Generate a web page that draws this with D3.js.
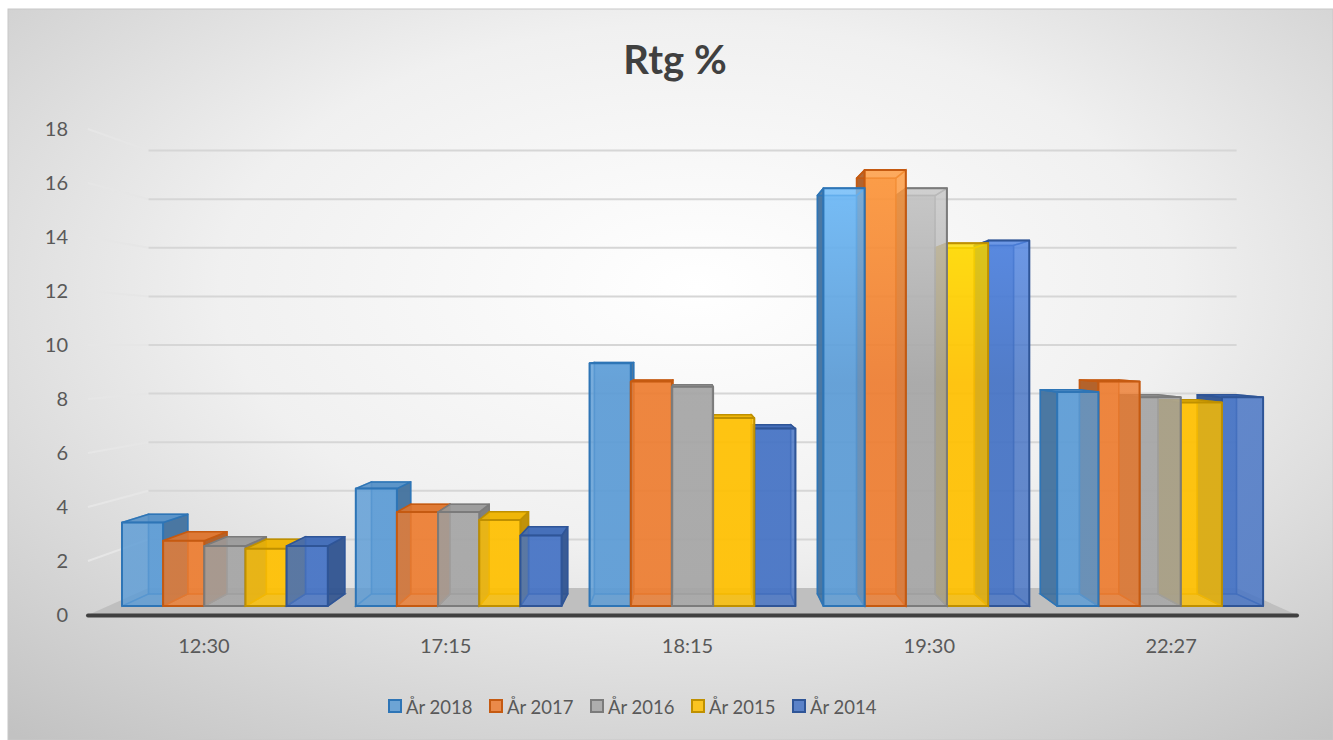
<!DOCTYPE html>
<html>
<head>
<meta charset="utf-8">
<script src="https://cdn.jsdelivr.net/npm/d3@7"></script>
<style>
body { margin: 0; background: #fff; }
svg text { font-family: Lato, "Open Sans", sans-serif; }
</style>
</head>
<body>
<div id="chart"></div>
<script>
// values
var categories = ["12:30", "17:15", "18:15", "19:30", "22:27"];
var series = ["År 2018", "År 2017", "År 2016", "År 2015", "År 2014"];
var v2018 = [3.2, 4.5, 9.3, 16.0, 8.2];
var v2017 = [2.5, 3.6, 8.6, 16.7, 8.6];
var v2016 = [2.3, 3.6, 8.4, 16.0, 8.0];
var v2015 = [2.2, 3.3, 7.2, 13.9, 7.8];
var v2014 = [2.3, 2.7, 6.8, 14.0, 8.0];
var yTicks = [0, 2, 4, 6, 8, 10, 12, 14, 16, 18];
var values = [v2018, v2017, v2016, v2015, v2014];

var fills = ["#5b9bd5", "#ed7d31", "#a5a5a5", "#ffc000", "#4472c4"];
var strokes = ["#2e75b6", "#c55a11", "#7b7b7b", "#bf9000", "#2f5597"];

var W = 1333, H = 740;

var svg = d3.select("#chart").append("svg")
    .attr("width", W)
    .attr("height", H);

var defs = svg.append("defs");

var bg = defs.append("radialGradient")
    .attr("id", "bg")
    .attr("cx", 0.52).attr("cy", 0.38).attr("r", 0.8);
bg.append("stop").attr("offset", 0).attr("stop-color", "#ffffff");
bg.append("stop").attr("offset", 0.45).attr("stop-color", "#f0f0f0");
bg.append("stop").attr("offset", 1).attr("stop-color", "#c2c2c2");

svg.append("rect")
    .attr("x", 8).attr("y", 9)
    .attr("width", W - 8).attr("height", H - 9)
    .attr("fill", "url(#bg)")
    .attr("stroke", "#c8c8c8");

// front plane scales, then a simple perspective toward (vx, vy)
var x0 = d3.scaleBand().domain(categories).range([88, 1297]);
var x1 = d3.scaleBand().domain(series).range([0, x0.bandwidth()])
    .paddingOuter(0.34).paddingInner(0);
var y = d3.scaleLinear().domain([0, 18]).range([615, 129]);

var vx = 693, vy = y(10);
var sWall = 0.9, sFront = 0.967, sBack = 0.922;

function proj(xf, v, s) {
  return [vx + (xf - vx) * s, vy + (y(v) - vy) * s];
}
function poly(pts) {
  return "M" + pts.map(function (p) { return p[0].toFixed(1) + "," + p[1].toFixed(1); }).join("L") + "Z";
}

// floor
svg.append("path")
    .attr("d", poly([proj(88, 0, 1), proj(1297, 0, 1), proj(1297, 0, sWall), proj(88, 0, sWall)]))
    .attr("fill", "#bfbfbf");

// gridlines: side wall part + back wall part
var grid = svg.append("g");
yTicks.forEach(function (t) {
  if (t === 0) return;
  var a = proj(88, t, 1), b = proj(88, t, sWall), c = proj(1297, t, sWall);
  grid.append("line")
      .attr("x1", a[0]).attr("y1", a[1]).attr("x2", b[0]).attr("y2", b[1])
      .attr("stroke", "#e6e6e6").attr("stroke-width", 2);
  grid.append("line")
      .attr("x1", b[0]).attr("y1", b[1]).attr("x2", c[0]).attr("y2", c[1])
      .attr("stroke", "#d6d6d6").attr("stroke-width", 2);
});

// axis line
svg.append("line")
    .attr("x1", 88).attr("x2", 1297)
    .attr("y1", y(0) + 0.5).attr("y2", y(0) + 0.5)
    .attr("stroke", "#404040").attr("stroke-width", 4)
    .attr("stroke-linecap", "round");

// gradients for the fronts (lighter toward the top)
fills.forEach(function (c, i) {
  var g = defs.append("linearGradient")
      .attr("id", "bar" + i)
      .attr("gradientUnits", "userSpaceOnUse")
      .attr("x1", 0).attr("y1", 160).attr("x2", 0).attr("y2", 606);
  g.append("stop").attr("offset", 0).attr("stop-color", d3.color(c).brighter(0.6).formatHex());
  g.append("stop").attr("offset", 0.5).attr("stop-color", c);
  g.append("stop").attr("offset", 1).attr("stop-color", c);
});

// bars
var bars = [];
categories.forEach(function (cat, ci) {
  series.forEach(function (s, si) {
    var xl = x0(cat) + x1(s), xr = xl + x1.bandwidth();
    bars.push({ ci: ci, si: si, xl: xl, xr: xr, v: values[si][ci] });
  });
});
// paint the bars farthest from the eye first
bars.sort(function (a, b) {
  return Math.abs((b.xl + b.xr) / 2 - vx) - Math.abs((a.xl + a.xr) / 2 - vx);
});

var barG = svg.append("g");
bars.forEach(function (d) {
  var g = barG.append("g");
  var col = fills[d.si], st = strokes[d.si];
  var F = [proj(d.xl, 0, sFront), proj(d.xr, 0, sFront), proj(d.xr, d.v, sFront), proj(d.xl, d.v, sFront)];
  var B = [proj(d.xl, 0, sBack), proj(d.xr, 0, sBack), proj(d.xr, d.v, sBack), proj(d.xl, d.v, sBack)];
  var dark = d3.color(col).darker(0.9).formatHex();
  var topc = d3.color(col).darker(0.2).formatHex();

  // back face and hidden edges
  g.append("path").attr("d", poly(B))
      .attr("fill", col).attr("fill-opacity", 0.6)
      .attr("stroke", st).attr("stroke-opacity", 0.6).attr("stroke-width", 1.5);
  g.append("path").attr("d", poly([F[0], F[1], B[1], B[0]]))
      .attr("fill", "none").attr("stroke", st).attr("stroke-opacity", 0.6).attr("stroke-width", 1.5);

  var leftSide = [F[0], F[3], B[3], B[0]];
  var rightSide = [F[1], F[2], B[2], B[1]];
  var hidden = [], shown = [];
  if (d.xr < vx) { hidden.push(leftSide); shown.push(rightSide); }
  else if (d.xl > vx) { hidden.push(rightSide); shown.push(leftSide); }
  else { hidden.push(leftSide, rightSide); }
  hidden.forEach(function (p) {
    g.append("path").attr("d", poly(p))
        .attr("fill", "none").attr("stroke", st).attr("stroke-opacity", 0.6).attr("stroke-width", 1.5);
  });
  shown.forEach(function (p) {
    g.append("path").attr("d", poly(p))
        .attr("fill", dark).attr("fill-opacity", 0.9)
        .attr("stroke", st).attr("stroke-width", 1.5).attr("stroke-linejoin", "round");
  });
  g.append("path").attr("d", poly([F[3], F[2], B[2], B[3]]))
      .attr("fill", d.v < 10 ? topc : "none").attr("fill-opacity", 0.9)
      .attr("stroke", st).attr("stroke-width", 1.5).attr("stroke-linejoin", "round");
  g.append("path").attr("d", poly(F))
      .attr("fill", "url(#bar" + d.si + ")").attr("fill-opacity", 0.82)
      .attr("stroke", st).attr("stroke-width", 2).attr("stroke-linejoin", "round");
});

// y tick labels
svg.append("g").selectAll("text")
    .data(yTicks).join("text")
    .attr("x", 68)
    .attr("y", function (d) { return y(d) + 7; })
    .attr("text-anchor", "end")
    .attr("font-size", 20)
    .attr("fill", "#595959")
    .text(function (d) { return d; });

// category labels
svg.append("g").selectAll("text")
    .data(categories).join("text")
    .attr("x", function (d) { return x0(d) + x0.bandwidth() / 2 - 5; })
    .attr("y", 653)
    .attr("text-anchor", "middle")
    .attr("font-size", 20)
    .attr("fill", "#595959")
    .text(function (d) { return d; });

// title
svg.append("text")
    .attr("x", 675).attr("y", 74)
    .attr("text-anchor", "middle")
    .attr("font-size", 40)
    .attr("font-weight", "bold")
    .attr("fill", "#404040")
    .text("Rtg %");

// legend
var leg = svg.append("g").selectAll("g")
    .data(series).join("g")
    .attr("transform", function (d, i) { return "translate(" + (389 + i * 101) + ",700)"; });
leg.append("rect")
    .attr("width", 12).attr("height", 12)
    .attr("fill", function (d, i) { return fills[i]; })
    .attr("fill-opacity", 0.85)
    .attr("stroke", function (d, i) { return strokes[i]; })
    .attr("stroke-width", 2);
leg.append("text")
    .attr("x", 17).attr("y", 13.5)
    .attr("font-size", 18.5)
    .attr("fill", "#595959")
    .text(function (d) { return d; });
</script>
</body>
</html>
